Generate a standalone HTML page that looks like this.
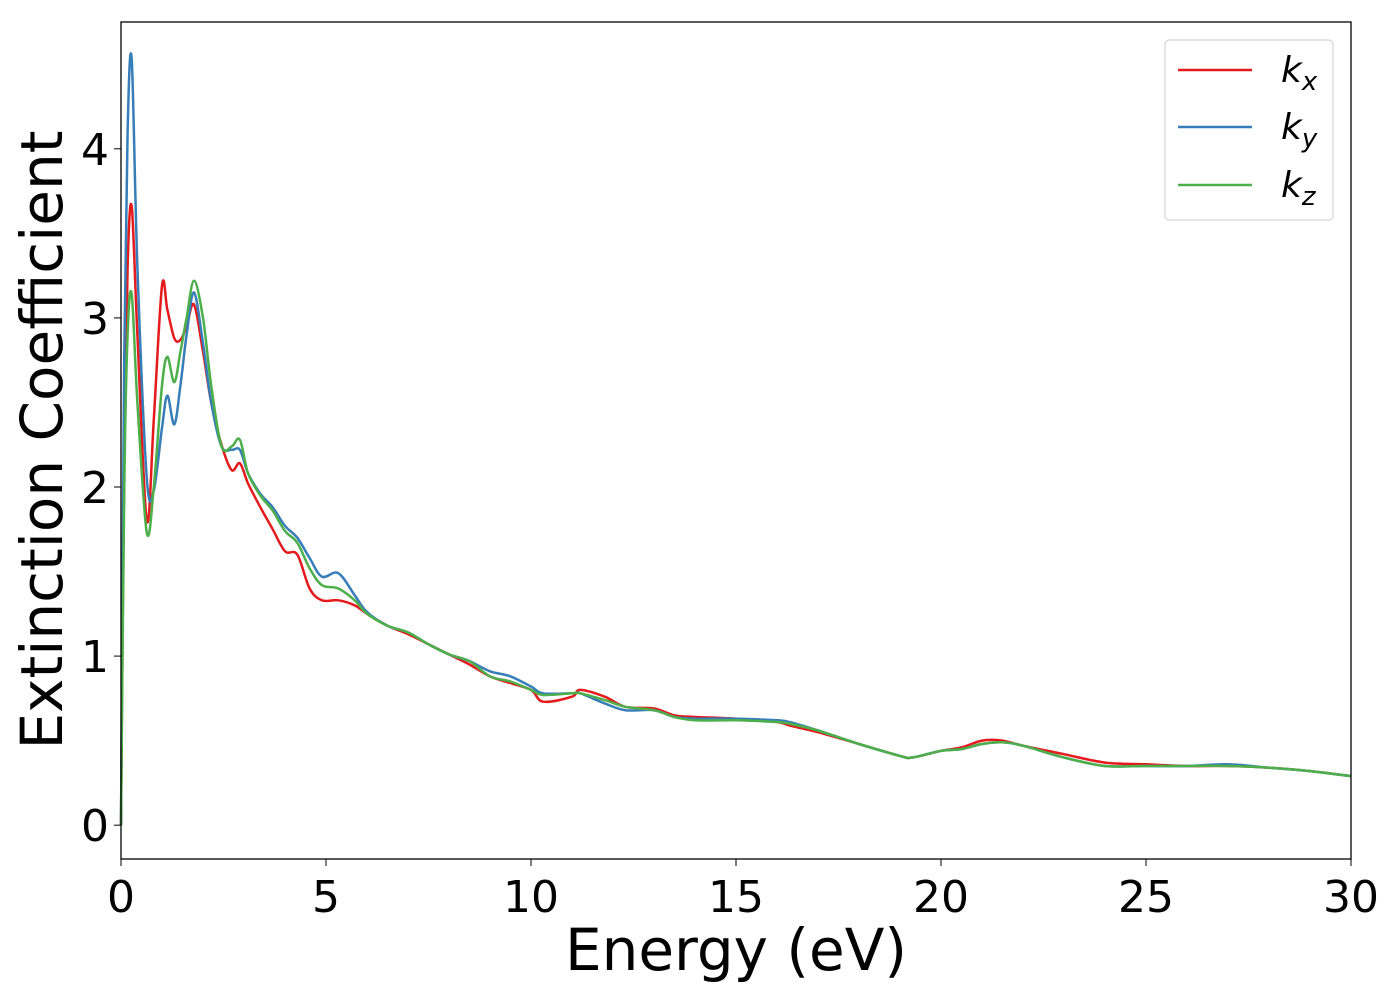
<!DOCTYPE html>
<html><head><meta charset="utf-8"><style>
body{margin:0;background:#fff;}
svg text{font-family:"DejaVu Sans","Liberation Sans",sans-serif;fill:#000;}
</style></head><body>
<svg id="chart" width="1400" height="1000" viewBox="0 0 1400 1000" xmlns="http://www.w3.org/2000/svg">
<g id="series"></g>
<rect x="121" y="22" width="1230" height="837" fill="none" stroke="#000" stroke-width="1.3"/>
<g id="xticks"></g>
<g id="yticks"></g>
<text x="736" y="970" font-size="58" text-anchor="middle">Energy (eV)</text>
<text transform="translate(62,440) rotate(-90)" font-size="58" text-anchor="middle">Extinction Coefficient</text>
<g>
<rect x="1165" y="40" width="168" height="180" rx="4" fill="#fff" stroke="#ccc" stroke-width="1"/>
<g><line x1="1178" y1="70" x2="1252" y2="70" stroke="#e41a1c" stroke-width="2.5"/><text x="1281" y="82" font-size="36" font-style="italic">k<tspan font-size="26" dy="8">x</tspan></text></g>
<g><line x1="1178" y1="127" x2="1252" y2="127" stroke="#377eb8" stroke-width="2.5"/><text x="1281" y="139" font-size="36" font-style="italic">k<tspan font-size="26" dy="8">y</tspan></text></g>
<g><line x1="1178" y1="185" x2="1252" y2="185" stroke="#4daf4a" stroke-width="2.5"/><text x="1281" y="197" font-size="36" font-style="italic">k<tspan font-size="26" dy="8">z</tspan></text></g>
</g>
</svg>
<script>
const energy=[0,0.08,0.16,0.26,0.4,0.63,0.8,1.0,1.13,1.3,1.45,1.6,1.78,2.0,2.2,2.45,2.7,2.9,3.1,3.4,3.7,4.0,4.3,4.6,4.9,5.3,5.7,6,6.5,7,7.5,8,8.5,9,9.5,10,10.3,11,11.2,11.8,12.3,13,13.5,14,15,16,16.3,17,18,19,19.3,20,20.5,21,21.5,22,23,24,25,26,27,28,29,30];
const kx=[0,2.2,3.3,3.66,2.9,1.8,2.4,3.19,3.05,2.88,2.87,2.95,3.08,2.8,2.5,2.25,2.10,2.14,2.02,1.88,1.75,1.62,1.60,1.40,1.33,1.33,1.30,1.25,1.18,1.13,1.07,1.01,0.95,0.88,0.84,0.80,0.73,0.76,0.80,0.76,0.70,0.69,0.65,0.64,0.63,0.61,0.59,0.55,0.48,0.41,0.40,0.44,0.46,0.50,0.50,0.47,0.42,0.37,0.36,0.35,0.35,0.34,0.32,0.29];
const ky=[0,2.8,4.1,4.53,3.3,2.05,1.98,2.35,2.54,2.37,2.6,2.9,3.15,2.85,2.5,2.24,2.22,2.22,2.08,1.96,1.88,1.77,1.70,1.58,1.47,1.49,1.36,1.26,1.18,1.14,1.07,1.01,0.97,0.91,0.88,0.82,0.78,0.78,0.78,0.72,0.68,0.68,0.64,0.63,0.63,0.62,0.61,0.56,0.48,0.41,0.40,0.44,0.45,0.48,0.49,0.47,0.40,0.35,0.35,0.35,0.36,0.34,0.32,0.29];
const kz=[0,2.0,2.9,3.14,2.5,1.73,2.0,2.6,2.77,2.62,2.8,3.0,3.22,3.0,2.6,2.24,2.24,2.28,2.08,1.95,1.86,1.74,1.67,1.52,1.42,1.40,1.33,1.25,1.18,1.14,1.07,1.01,0.97,0.88,0.85,0.80,0.77,0.78,0.78,0.74,0.70,0.68,0.64,0.62,0.62,0.61,0.60,0.56,0.48,0.41,0.40,0.44,0.45,0.48,0.49,0.47,0.40,0.35,0.35,0.35,0.35,0.34,0.32,0.29];
const xTicks=[0,5,10,15,20,25,30];
const yTicks=[0,1,2,3,4];
const X0=121,X1=1351,Y0=859,Y1=22,xmin=0,xmax=30,ymin=-0.2,ymax=4.75;
const sx=v=>X0+(v-xmin)/(xmax-xmin)*(X1-X0);
const sy=v=>Y0-(v-ymin)/(ymax-ymin)*(Y0-Y1);
const NS='http://www.w3.org/2000/svg';
function pathFor(ys){
  const p=energy.map((e,i)=>[sx(e),sy(ys[i])]);
  let d='M'+p[0][0].toFixed(1)+','+p[0][1].toFixed(1);
  for(let i=0;i<p.length-1;i++){
    const a=p[i-1]||p[i],b=p[i],c=p[i+1],n=p[i+2]||c;
    const c1=[b[0]+(c[0]-a[0])/6,b[1]+(c[1]-a[1])/6];
    const c2=[c[0]-(n[0]-b[0])/6,c[1]-(n[1]-b[1])/6];
    d+=' C'+c1[0].toFixed(1)+','+c1[1].toFixed(1)+' '+c2[0].toFixed(1)+','+c2[1].toFixed(1)+' '+c[0].toFixed(1)+','+c[1].toFixed(1);
  }
  return d;
}
const g=document.getElementById('series');
[[kx,'#e41a1c','series-kx'],[ky,'#377eb8','series-ky'],[kz,'#4daf4a','series-kz']].forEach(([ys,col,name])=>{
  const el=document.createElementNS(NS,'path');
  el.setAttribute('d',pathFor(ys));
  el.setAttribute('fill','none');el.setAttribute('stroke',col);el.setAttribute('stroke-width','2.5');
  
  
  g.appendChild(el);
});
const xg=document.getElementById('xticks');
xTicks.forEach(t=>{
  const l=document.createElementNS(NS,'line');
  l.setAttribute('x1',sx(t));l.setAttribute('x2',sx(t));l.setAttribute('y1',Y0);l.setAttribute('y2',Y0+7);l.setAttribute('stroke','#000');
  
  
  xg.appendChild(l);
  const tx=document.createElementNS(NS,'text');
  tx.setAttribute('x',sx(t));tx.setAttribute('y',912);tx.setAttribute('font-size','44');tx.setAttribute('text-anchor','middle');
  tx.textContent=t;
  
  
  xg.appendChild(tx);
});
const yg=document.getElementById('yticks');
yTicks.forEach(t=>{
  const l=document.createElementNS(NS,'line');
  l.setAttribute('x1',X0-7);l.setAttribute('x2',X0);l.setAttribute('y1',sy(t));l.setAttribute('y2',sy(t));l.setAttribute('stroke','#000');
  
  
  yg.appendChild(l);
  const tx=document.createElementNS(NS,'text');
  tx.setAttribute('x',X0-12);tx.setAttribute('y',sy(t)+16);tx.setAttribute('font-size','44');tx.setAttribute('text-anchor','end');
  tx.textContent=t;
  
  
  yg.appendChild(tx);
});
</script>
</body></html>
